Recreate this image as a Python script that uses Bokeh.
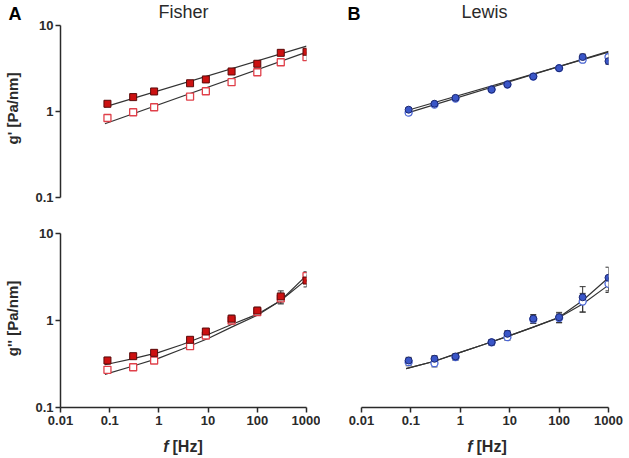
from math import pi
from bokeh.plotting import figure
from bokeh.models import (Range1d, Label, Whisker, TeeHead, ColumnDataSource,
                          FixedTicker, CustomJSTickFormatter)
from bokeh.layouts import column, row
from bokeh.embed import file_html
from bokeh.resources import INLINE

# ---------------- data ----------------
freq = [0.09, 0.3, 0.8, 4.3, 9, 30, 100, 300, 1000]
x_ticks = [0.01, 0.1, 1, 10, 100, 1000]
y_ticks = [0.1, 1, 10]

# power-law fit lines (straight in log-log): end points
fit_x_pl = [0.08, 1000]
# g'' fits (curved): sampled points
fit_x_c = [0.08, 0.3, 1, 3, 10, 30, 100, 300, 1000]

# Fisher g'
fisher_gp_filled = [1.23, 1.47, 1.71, 2.13, 2.36, 2.92, 3.59, 4.81, 4.95]
fisher_gp_filled_err = [0.06, 0.05, 0.05, 0.07, 0.08, 0.10, 0.15, 0.25, 0.30]
fisher_gp_open = [0.84, 0.98, 1.12, 1.49, 1.72, 2.19, 2.86, 3.74, 4.28]
fisher_gp_open_err = [0.06, 0.05, 0.06, 0.08, 0.09, 0.12, 0.15, 0.25, 0.35]
fisher_gp_fit_filled = [1.13, 5.75]
fisher_gp_fit_open = [0.72, 4.90]

# Fisher g''
fisher_gpp_filled = [0.347, 0.389, 0.425, 0.60, 0.747, 1.05, 1.30, 1.89, 2.88]
fisher_gpp_filled_err = [0.03, 0.02, 0.03, 0.04, 0.06, 0.10, 0.12, 0.30, 0.45]
fisher_gpp_open = [0.271, 0.29, 0.347, 0.507, 0.672, 1.0, 1.25, 1.80, 3.23]
fisher_gpp_open_err = [0.02, 0.02, 0.02, 0.03, 0.05, 0.08, 0.10, 0.25, 0.40]
fisher_gpp_fit_filled = [0.31, 0.365, 0.43, 0.53, 0.69, 0.90, 1.18, 1.70, 2.95]
fisher_gpp_fit_open = [0.24, 0.30, 0.37, 0.47, 0.62, 0.84, 1.15, 1.70, 3.30]

# Lewis g'
lewis_gp_filled = [1.05, 1.23, 1.44, 1.80, 2.06, 2.55, 3.19, 4.30, 3.85]
lewis_gp_filled_err = [0.06, 0.05, 0.06, 0.07, 0.08, 0.10, 0.15, 0.35, 0.30]
lewis_gp_open = [0.97, 1.20, 1.41, 1.80, 2.06, 2.55, 3.19, 4.00, 4.30]
lewis_gp_open_err = [0.06, 0.05, 0.06, 0.07, 0.08, 0.10, 0.15, 0.30, 0.35]
lewis_gp_fit_filled = [1.02, 4.90]
lewis_gp_fit_open = [0.95, 5.00]

# Lewis g''
lewis_gpp_filled = [0.347, 0.363, 0.386, 0.563, 0.703, 1.05, 1.09, 1.85, 3.10]
lewis_gpp_filled_err = [0.03, 0.03, 0.03, 0.04, 0.06, 0.12, 0.15, 0.60, 1.00]
lewis_gpp_open = [0.332, 0.323, 0.379, 0.56, 0.643, 1.03, 1.07, 1.65, 2.64]
lewis_gpp_open_err = [0.03, 0.03, 0.03, 0.04, 0.05, 0.10, 0.12, 0.40, 0.45]
lewis_gpp_fit_filled = [0.28, 0.34, 0.43, 0.53, 0.67, 0.84, 1.09, 1.70, 3.10]
lewis_gpp_fit_open = [0.28, 0.34, 0.43, 0.53, 0.67, 0.84, 1.08, 1.55, 2.55]

# ---------------- styling / geometry ----------------
FONT = "Liberation Sans"
INK = "#2a2a2a"
LINE = "#333333"
STRIP_W = 24                # left strip holding letter + y-axis title
W_LEFT, W_RIGHT = 320, 309
TOP_H, BOT_H, FOOT_H = 215, 217, 26
TOP_B, BOT_T, BOT_B = 18, 18, 25       # borders of the panels
TOP_FRAME_H = TOP_H - TOP_B            # top panels: frame reaches to the page top
BOT_FRAME_H = BOT_H - BOT_T - BOT_B
PX_PER_DEC_Y = 86.0
PX_PER_DEC_X_R = 49.4
TOP_YMAX = 10 ** (-1 + TOP_FRAME_H / PX_PER_DEC_Y)
RIGHT_TOP_XMIN = 10 ** (3 - 288 / PX_PER_DEC_X_R)


def style_axes(p):
    for ax in p.axis:
        ax.axis_line_color = INK
        ax.axis_line_width = 1.5
        ax.major_tick_line_color = INK
        ax.major_tick_line_width = 1.5
        ax.major_tick_out = 5
        ax.major_tick_in = 0
        ax.minor_tick_line_color = None
        ax.major_label_text_font = FONT
        ax.major_label_text_font_style = "bold"
        ax.major_label_text_font_size = "13px"
        ax.major_label_text_color = INK
        ax.formatter = CustomJSTickFormatter(code="return tick.toString();")
    for ax in p.xaxis:
        ax.ticker = FixedTicker(ticks=x_ticks, minor_ticks=[])
        ax.major_label_standoff = 3
        ax.bounds = (0.01, 1000)
    for ax in p.yaxis:
        ax.ticker = FixedTicker(ticks=y_ticks, minor_ticks=[])
        ax.major_label_standoff = 2
        ax.bounds = (0.1, 10)


def make_panel(width, height, left, right, top, bottom, show_x, show_y,
               xr=(0.01, 1000), yr=(0.1, 10)):
    p = figure(width=width, height=height, x_axis_type="log", y_axis_type="log",
               x_range=Range1d(*xr), y_range=Range1d(*yr),
               x_axis_location="below" if show_x else None,
               y_axis_location="left" if show_y else None,
               output_backend="svg", toolbar_location=None,
               min_border_left=left, min_border_right=right,
               min_border_top=top, min_border_bottom=bottom)
    p.grid.visible = False
    p.outline_line_color = None
    style_axes(p)
    return p


def text_strip(width, height, top=0, bottom=0):
    s = figure(width=width, height=height, x_range=Range1d(0, 1), y_range=Range1d(0, 1),
               x_axis_location=None, y_axis_location=None,
               output_backend="svg", toolbar_location=None,
               min_border_left=0, min_border_right=0,
               min_border_top=top, min_border_bottom=bottom)
    s.grid.visible = False
    s.outline_line_color = None
    return s


def add_text(s, x, y, text, size, style="normal", align="left", color=INK, angle=0):
    s.add_layout(Label(x=x, y=y, x_units="screen", y_units="screen", text=text,
                       text_font=FONT, text_font_size=size, text_font_style=style,
                       text_color=color, text_align=align, text_baseline="middle",
                       angle=angle))


def add_errors(p, y, err):
    src = ColumnDataSource(dict(x=freq,
                                lo=[a - e for a, e in zip(y, err)],
                                hi=[a + e for a, e in zip(y, err)]))
    w = Whisker(source=src, base="x", lower="lo", upper="hi", dimension="height",
                line_color=LINE, line_width=1,
                lower_head=TeeHead(size=6, line_color=LINE, line_width=1),
                upper_head=TeeHead(size=6, line_color=LINE, line_width=1))
    p.add_layout(w)


def fisher_points(p, filled, filled_err, opened, opened_err):
    add_errors(p, opened, opened_err)
    add_errors(p, filled, filled_err)
    p.scatter(freq, opened, marker="square", size=7, fill_color="white",
              line_color="#e0404a", line_width=1.3)
    p.scatter(freq, filled, marker="square", size=7, fill_color="#cc1111",
              line_color="#5a0a0a", line_width=1)


def lewis_points(p, filled, filled_err, opened, opened_err):
    add_errors(p, filled, filled_err)
    add_errors(p, opened, opened_err)
    p.scatter(freq, opened, marker="circle", size=7, fill_color="white",
              line_color="#4a66d8", line_width=1.3)
    p.scatter(freq, filled, marker="circle", size=7, fill_color="#3a56c8",
              line_color="#1c2870", line_width=1)


# ---------------- top row ----------------
# strip frame: page y 0 .. TOP_FRAME_H (same as the panels beside it)
strip_top = text_strip(STRIP_W, TOP_H, 0, TOP_B)
add_text(strip_top, 8, TOP_FRAME_H - 13.5, "A", "18px", "bold", "left", "black")
add_text(strip_top, 11.5, TOP_FRAME_H - 108, "g' [Pa/nm]", "15px", "bold", "center", INK, pi / 2)

p1 = make_panel(W_LEFT - STRIP_W, TOP_H, 36, 14, 0, TOP_B, False, True,
                yr=(0.1, TOP_YMAX))
p1.line(fit_x_pl, fisher_gp_fit_filled, line_color=LINE, line_width=1.2)
p1.line(fit_x_pl, fisher_gp_fit_open, line_color=LINE, line_width=1.2)
fisher_points(p1, fisher_gp_filled, fisher_gp_filled_err, fisher_gp_open, fisher_gp_open_err)
add_text(p1, 123, TOP_FRAME_H - 11.5, "Fisher", "18px", "normal", "center")

p2 = make_panel(W_RIGHT, TOP_H, 0, 21, 0, TOP_B, False, False,
                xr=(RIGHT_TOP_XMIN, 1000), yr=(0.1, TOP_YMAX))
p2.line(fit_x_pl, lewis_gp_fit_filled, line_color=LINE, line_width=1.2)
p2.line(fit_x_pl, lewis_gp_fit_open, line_color=LINE, line_width=1.2)
lewis_points(p2, lewis_gp_filled, lewis_gp_filled_err, lewis_gp_open, lewis_gp_open_err)
add_text(p2, 27, TOP_FRAME_H - 13.5, "B", "18px", "bold", "left", "black")
add_text(p2, 164, TOP_FRAME_H - 11.5, "Lewis", "18px", "normal", "center")

# ---------------- bottom row ----------------
# strip frame: page y 233 .. 407 (same as the panels beside it)
strip_bot = text_strip(STRIP_W, BOT_H, BOT_T, BOT_B)
add_text(strip_bot, 11.5, 407 - 318, "g'' [Pa/nm]", "15px", "bold", "center", INK, pi / 2)

p3 = make_panel(W_LEFT - STRIP_W, BOT_H, 36, 14, BOT_T, BOT_B, True, True)
p3.line(fit_x_c, fisher_gpp_fit_filled, line_color=LINE, line_width=1.2)
p3.line(fit_x_c, fisher_gpp_fit_open, line_color=LINE, line_width=1.2)
fisher_points(p3, fisher_gpp_filled, fisher_gpp_filled_err, fisher_gpp_open, fisher_gpp_open_err)

p4 = make_panel(W_RIGHT, BOT_H, 41, 21, BOT_T, BOT_B, True, False)
p4.line(fit_x_c, lewis_gpp_fit_filled, line_color=LINE, line_width=1.2)
p4.line(fit_x_c, lewis_gpp_fit_open, line_color=LINE, line_width=1.2)
lewis_points(p4, lewis_gpp_filled, lewis_gpp_filled_err, lewis_gpp_open, lewis_gpp_open_err)

# ---------------- footer (x-axis titles) ----------------
footer = text_strip(W_LEFT + W_RIGHT, FOOT_H)
add_text(footer, 168, 12, "f", "16px", "bold italic", "right")
add_text(footer, 172, 12, "[Hz]", "16px", "bold", "left")
add_text(footer, 472, 12, "f", "16px", "bold italic", "right")
add_text(footer, 476, 12, "[Hz]", "16px", "bold", "left")

layout = column(row(strip_top, p1, p2), row(strip_bot, p3, p4), footer)

open("out.html", "w").write(file_html(layout, INLINE))
